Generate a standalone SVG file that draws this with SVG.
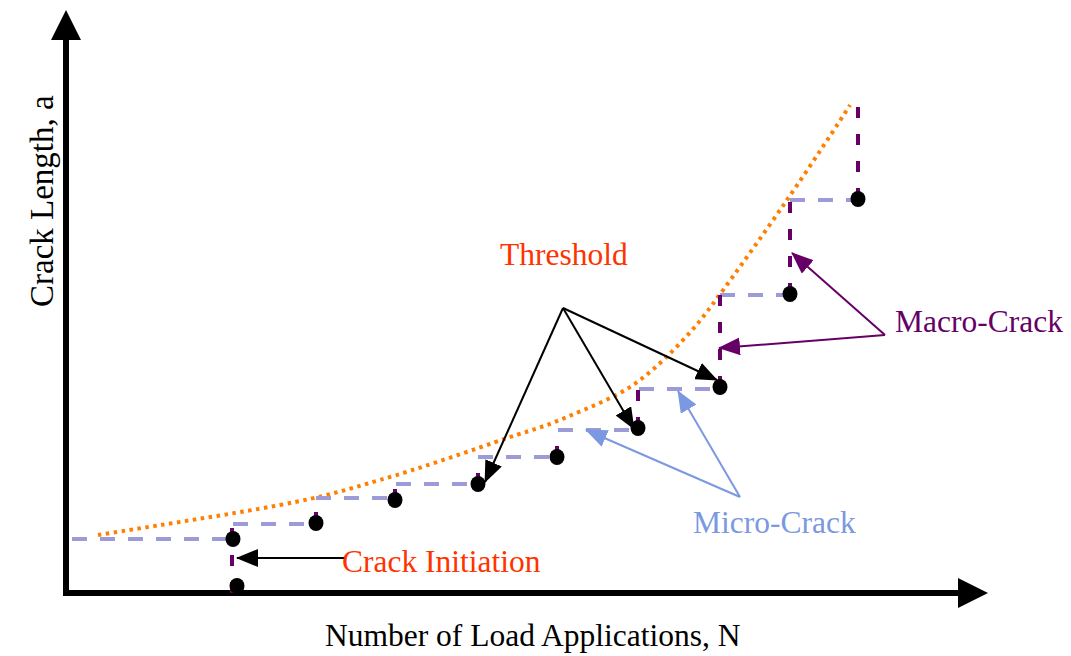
<svg xmlns="http://www.w3.org/2000/svg" width="1071" height="656" viewBox="0 0 1071 656">
  <style>
    text { font-family: "Liberation Serif", "Times New Roman", serif; font-size: 31.5px; }
    .axis { stroke: #000; stroke-width: 6; fill: none; }
    .step-h { stroke: #9d9ad8; stroke-width: 4; stroke-dasharray: 15 13; fill: none; }
    .step-v { stroke: #660066; stroke-width: 4; stroke-dasharray: 11 16; fill: none; }
    .curve { stroke: #ff8000; stroke-width: 4; stroke-dasharray: 3.5 4.5; fill: none; }
    .pt { fill: #000; }
    .lead-k { stroke: #000; stroke-width: 2; fill: none; marker-end: url(#ah-k); }
    .lead-b { stroke: #7b98e0; stroke-width: 2; fill: none; marker-end: url(#ah-b); }
    .lead-p { stroke: #660066; stroke-width: 2; fill: none; marker-end: url(#ah-p); }
  </style>
  <defs>
    <marker id="ah-k" markerWidth="22" markerHeight="18" refX="21" refY="9" orient="auto" markerUnits="userSpaceOnUse">
      <path d="M0,0 L22,9 L0,18 z" fill="#000"/>
    </marker>
    <marker id="ah-b" markerWidth="22" markerHeight="18" refX="21" refY="9" orient="auto" markerUnits="userSpaceOnUse">
      <path d="M0,0 L22,9 L0,18 z" fill="#7b98e0"/>
    </marker>
    <marker id="ah-p" markerWidth="22" markerHeight="18" refX="21" refY="9" orient="auto" markerUnits="userSpaceOnUse">
      <path d="M0,0 L22,9 L0,18 z" fill="#660066"/>
    </marker>
  </defs>

  <rect width="1071" height="656" fill="#fff"/>

  <!-- axes -->
  <g id="axes">
    <path class="axis" d="M66,596 V36"/>
    <polygon points="66,10 51,40 81,40" fill="#000"/>
    <path class="axis" d="M63,593 H960"/>
    <polygon points="988,593 958,578 958,608" fill="#000"/>
    <text x="325" y="646" fill="#000">Number of Load Applications, N</text>
    <text transform="translate(53,307) rotate(-90)" fill="#000" style="font-size:33px">Crack Length, a</text>
  </g>

  <!-- threshold curve -->
  <g id="threshold-curve">
    <path class="curve" d="M98,535 C128,530 233,514 280,505 C327,496 342,491 380,480 C418,469 476,449 507,438 C538,428 546,426 567,417 C588,408 614,398 633,385 C652,372 669,355 683,340 C697,325 701,320 718,297 C735,274 765,232 787,200 C809,168 840,121 850,105"/>
  </g>

  <!-- crack growth staircase -->
  <g id="staircase">
    <path class="step-h" d="M72,539 H226"/>
    <path class="step-h" d="M233,524 H316"/>
    <path class="step-h" d="M316,498 H395"/>
    <path class="step-h" d="M396,484 H478"/>
    <path class="step-h" d="M478,457 H557"/>
    <path class="step-h" d="M558,430 H638"/>
    <path class="step-h" d="M639,389 H720"/>
    <path class="step-h" d="M720,295 H790"/>
    <path class="step-h" d="M790,200 H858"/>

    <path class="step-v" d="M232,593 V524"/>
    <path class="step-v" d="M316,523 V498"/>
    <path class="step-v" d="M395,500 V484"/>
    <path class="step-v" d="M478,484 V457"/>
    <path class="step-v" d="M557,457 V430"/>
    <path class="step-v" d="M638,428 V389"/>
    <path class="step-v" d="M720,387 V295"/>
    <path class="step-v" d="M790,294 V200"/>
    <path class="step-v" d="M858,199 V104"/>

    <ellipse class="pt" cx="237" cy="586" rx="7.5" ry="8"/>
    <ellipse class="pt" cx="233" cy="539" rx="7.5" ry="8"/>
    <ellipse class="pt" cx="316" cy="523" rx="7.5" ry="8"/>
    <ellipse class="pt" cx="395" cy="500" rx="7.5" ry="8"/>
    <ellipse class="pt" cx="478" cy="484" rx="7.5" ry="8"/>
    <ellipse class="pt" cx="557" cy="457" rx="7.5" ry="8"/>
    <ellipse class="pt" cx="638" cy="428" rx="7.5" ry="8"/>
    <ellipse class="pt" cx="720" cy="387" rx="7.5" ry="8"/>
    <ellipse class="pt" cx="790" cy="294" rx="7.5" ry="8"/>
    <ellipse class="pt" cx="858" cy="199" rx="7.5" ry="8"/>
  </g>

  <!-- leader arrows -->
  <g id="connectors">
    <path class="lead-k" d="M345,558 H237"/>
    <path class="lead-k" d="M563,308 L485,482"/>
    <path class="lead-k" d="M563,308 L634,429"/>
    <path class="lead-k" d="M563,308 L717,380"/>
    <path class="lead-b" d="M740,497 L586,430"/>
    <path class="lead-b" d="M740,497 L678,391"/>
    <path class="lead-p" d="M885,335 L792,253"/>
    <path class="lead-p" d="M885,335 L719,348"/>
  </g>

  <!-- labels -->
  <g id="label-threshold">
    <text x="500" y="265" fill="#ff3300">Threshold</text>
  </g>
  <g id="label-initiation">
    <text x="342" y="572" fill="#ff3300">Crack Initiation</text>
  </g>
  <g id="label-micro">
    <text x="693" y="533" fill="#7b98e0">Micro-Crack</text>
  </g>
  <g id="label-macro">
    <text x="895" y="332" fill="#660066">Macro-Crack</text>
  </g>
</svg>
